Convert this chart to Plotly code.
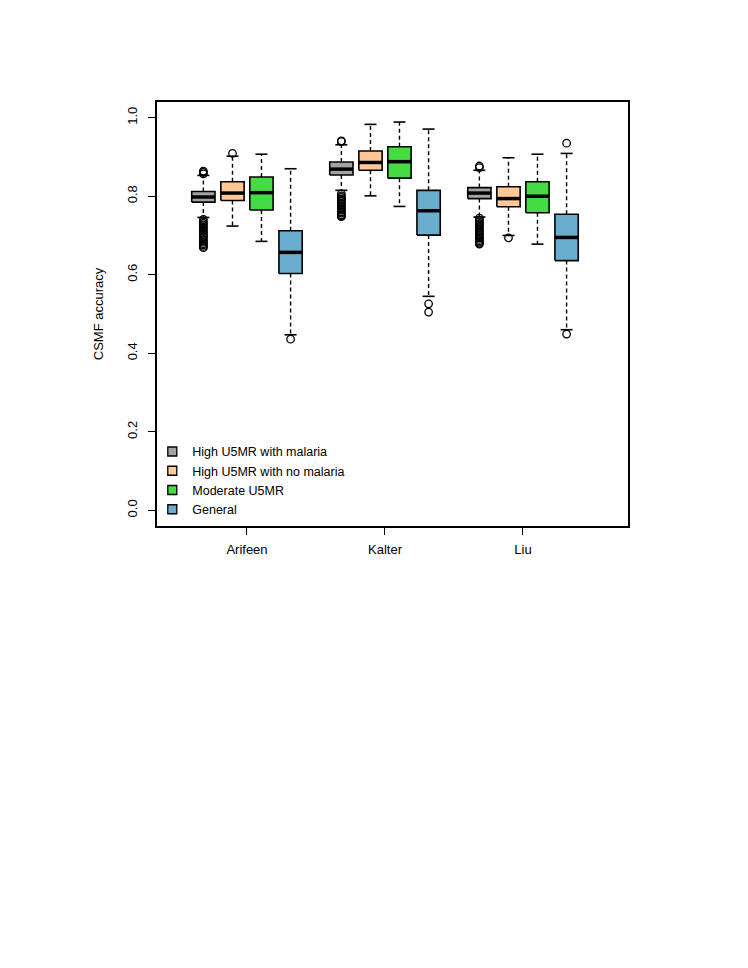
import plotly.graph_objects as go

# ---------------- data ----------------
groups = ["Arifeen", "Kalter", "Liu"]
series = ["High U5MR with malaria", "High U5MR with no malaria", "Moderate U5MR", "General"]
colors = ["#A3A3A3", "#FFC896", "#45DB45", "#6AADCD"]

# per series: values for [Arifeen, Kalter, Liu]
lower_whisker = {
    "High U5MR with malaria":    [0.746, 0.815, 0.747],
    "High U5MR with no malaria": [0.724, 0.801, 0.700],
    "Moderate U5MR":             [0.685, 0.774, 0.678],
    "General":                   [0.447, 0.545, 0.460],
}
q1 = {
    "High U5MR with malaria":    [0.785, 0.854, 0.794],
    "High U5MR with no malaria": [0.789, 0.866, 0.773],
    "Moderate U5MR":             [0.765, 0.846, 0.758],
    "General":                   [0.603, 0.701, 0.636],
}
median = {
    "High U5MR with malaria":    [0.798, 0.869, 0.808],
    "High U5MR with no malaria": [0.808, 0.886, 0.794],
    "Moderate U5MR":             [0.809, 0.888, 0.800],
    "General":                   [0.657, 0.763, 0.695],
}
q3 = {
    "High U5MR with malaria":    [0.812, 0.887, 0.822],
    "High U5MR with no malaria": [0.837, 0.915, 0.824],
    "Moderate U5MR":             [0.849, 0.926, 0.837],
    "General":                   [0.712, 0.815, 0.754],
}
upper_whisker = {
    "High U5MR with malaria":    [0.853, 0.931, 0.866],
    "High U5MR with no malaria": [0.902, 0.983, 0.898],
    "Moderate U5MR":             [0.907, 0.989, 0.907],
    "General":                   [0.870, 0.971, 0.909],
}
outliers = {
    "High U5MR with malaria": [
        [0.857, 0.861, 0.864, 0.741, 0.735, 0.731, 0.727, 0.722, 0.719, 0.714, 0.711,
         0.706, 0.702, 0.698, 0.695, 0.690, 0.687, 0.683, 0.679, 0.676, 0.672, 0.669],
        [0.939, 0.941, 0.806, 0.801, 0.797, 0.793, 0.790, 0.786, 0.782, 0.779, 0.775,
         0.771, 0.768, 0.764, 0.760, 0.757, 0.753, 0.750, 0.748],
        [0.873, 0.877, 0.744, 0.739, 0.735, 0.731, 0.728, 0.724, 0.720, 0.716, 0.712,
         0.709, 0.705, 0.701, 0.697, 0.694, 0.690, 0.686, 0.683, 0.680, 0.678],
    ],
    "High U5MR with no malaria": [[0.909], [], [0.694]],
    "Moderate U5MR": [[], [], []],
    "General": [[0.436], [0.526, 0.505], [0.935, 0.449]],
}

# ---------------- layout constants ----------------
offsets = [-0.316, -0.105, 0.105, 0.316]
half_w = 0.0844
cap_w = 0.0435
FONT = "Liberation Sans, Arial, Helvetica, sans-serif"

fig = go.Figure()

# legend entries
for s, c in zip(series, colors):
    fig.add_trace(go.Scatter(
        x=[None], y=[None], mode="markers", name=s,
        marker=dict(symbol="square", size=9, color=c, line=dict(color="black", width=1.3)),
    ))

for si, (s, c) in enumerate(zip(series, colors)):
    for gi, g in enumerate(groups):
        xc = gi + 1 + offsets[si]
        lo, a, m, b, hi = (lower_whisker[s][gi], q1[s][gi], median[s][gi],
                           q3[s][gi], upper_whisker[s][gi])
        # whiskers (dashed)
        fig.add_trace(go.Scatter(
            x=[xc, xc, None, xc, xc], y=[b, hi, None, a, lo], mode="lines",
            line=dict(color="black", width=1.4, dash="4px,3px"),
            showlegend=False, hoverinfo="skip"))
        # staples
        fig.add_trace(go.Scatter(
            x=[xc - cap_w, xc + cap_w, None, xc - cap_w, xc + cap_w],
            y=[hi, hi, None, lo, lo], mode="lines",
            line=dict(color="black", width=1.6),
            showlegend=False, hoverinfo="skip"))
        # box
        fig.add_trace(go.Scatter(
            x=[xc - half_w, xc + half_w, xc + half_w, xc - half_w, xc - half_w],
            y=[a, a, b, b, a], mode="lines", fill="toself", fillcolor=c,
            line=dict(color="black", width=1.6),
            showlegend=False, hoverinfo="skip"))
        # median
        fig.add_trace(go.Scatter(
            x=[xc - half_w, xc + half_w], y=[m, m], mode="lines",
            line=dict(color="black", width=3.5),
            showlegend=False, hoverinfo="skip"))
        # outliers
        ov = outliers[s][gi]
        if ov:
            fig.add_trace(go.Scatter(
                x=[xc] * len(ov), y=ov, mode="markers",
                marker=dict(symbol="circle-open", size=7.5, color="black",
                            line=dict(color="black", width=1.3)),
                showlegend=False, hoverinfo="skip"))

fig.update_layout(
    width=748, height=968,
    margin=dict(l=149, r=128, t=94, b=450, autoexpand=False),
    paper_bgcolor="white", plot_bgcolor="white",
    font=dict(family=FONT, size=12, color="black"),
    showlegend=True,
    legend=dict(
        x=-0.01, y=0.005, xanchor="left", yanchor="bottom",
        bgcolor="rgba(0,0,0,0)", font=dict(family=FONT, size=12.5, color="black"),
        tracegroupgap=0, itemclick=False,
    ),
    xaxis=dict(
        range=[0.348, 3.761], tickvals=[1, 2, 3], ticktext=groups,
        ticks="outside", ticklen=7, tickwidth=1.3, tickcolor="black",
        showline=True, linecolor="black", linewidth=1.6, mirror=True,
        showgrid=False, zeroline=False, automargin=False, ticklabelstandoff=4,
        tickfont=dict(family=FONT, size=13, color="black"),
    ),
    yaxis=dict(
        range=[-0.04, 1.04], tickvals=[0, 0.2, 0.4, 0.6, 0.8, 1.0],
        ticktext=["0.0", "0.2", "0.4", "0.6", "0.8", "1.0"], tickangle=-90,
        ticks="outside", ticklen=7, tickwidth=1.3, tickcolor="black",
        showline=True, linecolor="black", linewidth=1.6, mirror=True,
        showgrid=False, zeroline=False, automargin=False, ticklabelstandoff=6,
        tickfont=dict(family=FONT, size=13, color="black"),
        title=dict(text="CSMF accuracy", standoff=18,
                   font=dict(family=FONT, size=13, color="black")),
    ),
)

fig.write_html("out.html")
